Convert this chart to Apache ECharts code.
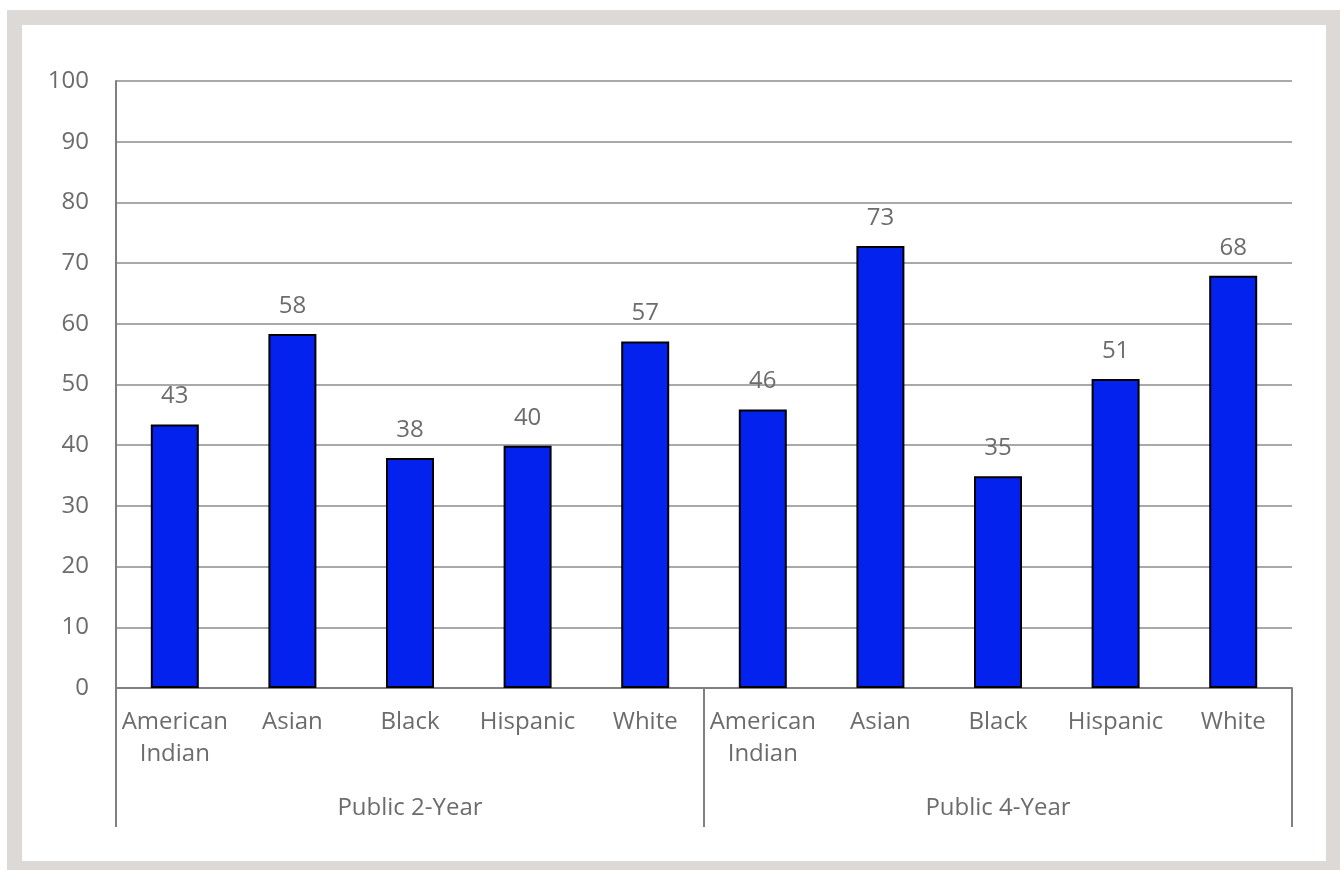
<!DOCTYPE html>
<html><head><meta charset="utf-8">
<script src="https://cdn.jsdelivr.net/npm/echarts@6/dist/echarts.min.js"></script>
<style>
html,body{margin:0;padding:0;background:#fff;}
#frame{position:absolute;left:7px;top:10px;width:1333px;height:860px;background:#dcd9d6;}
#inner{position:absolute;left:22px;top:25px;width:1304px;height:836px;background:#fff;}
#chart{position:absolute;left:0;top:0;width:1340px;height:870px;}
</style></head>
<body>
<div id="frame"></div><div id="inner"></div>
<div id="chart"></div>
<script>
const categories = ['American\nIndian','Asian','Black','Hispanic','White','American\nIndian','Asian','Black','Hispanic','White'];
const groups = ['Public 2-Year','Public 4-Year'];
const values = [43.4, 58.3, 37.9, 39.9, 57.1, 45.9, 72.8, 34.9, 50.9, 67.9];
const yTicks = {min:0, max:100, interval:10};

const font = '"Open Sans", Lato, sans-serif';
const txt = '#6c6c6c';
const chart = echarts.init(document.getElementById('chart'), null, {renderer:'canvas'});
chart.setOption({
  backgroundColor:'transparent',
  animation:false,
  grid:{left:116, right:48, top:81, bottom:182, containLabel:false},
  xAxis:[{
    type:'category', data:categories, position:'bottom',
    axisLine:{show:true, lineStyle:{color:'#808080', width:2}},
    axisTick:{show:false},
    axisLabel:{color:txt, fontFamily:font, fontSize:24, lineHeight:32, margin:18, interval:0}
  },{
    type:'category', data:groups, position:'bottom',
    axisLine:{show:false},
    axisTick:{show:true, length:139, lineStyle:{color:'#808080', width:2}},
    axisLabel:{color:txt, fontFamily:font, fontSize:24, lineHeight:32, margin:104}
  }],
  yAxis:{
    type:'value', min:yTicks.min, max:yTicks.max, interval:yTicks.interval,
    axisLine:{show:true, lineStyle:{color:'#808080', width:2}}, axisTick:{show:false},
    splitLine:{show:true, lineStyle:{color:'#8c8c8c', width:1.5}},
    axisLabel:{color:txt, fontFamily:font, fontSize:24, margin:27}
  },
  series:[{
    type:'bar', data:values, xAxisIndex:0, barWidth:48,
    itemStyle:{color:'#0422ee', borderColor:'#000', borderWidth:2},
    label:{show:true, position:'top', distance:16, color:txt, fontFamily:font, fontSize:24,
      formatter:p=>Math.round(p.value)}
  }]
});
</script>
</body></html>
